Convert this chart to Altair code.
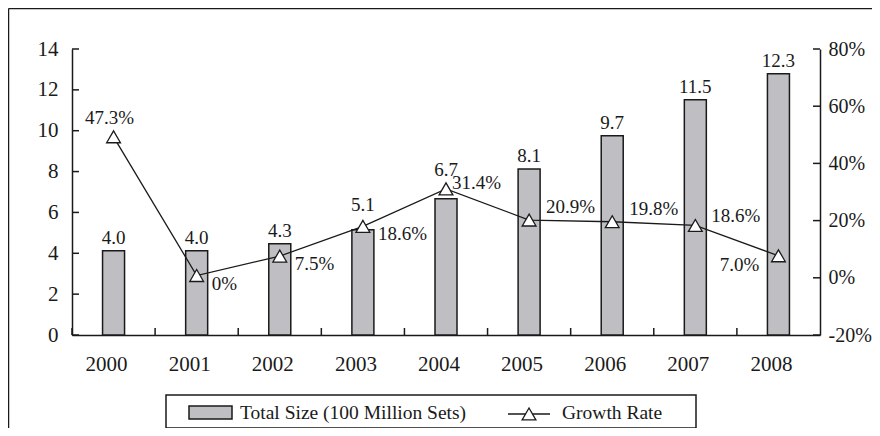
import altair as alt
import pandas as pd

# ---- data ----
years = ["2000", "2001", "2002", "2003", "2004", "2005", "2006", "2007", "2008"]
total_size = [4.13, 4.13, 4.47, 5.15, 6.67, 8.12, 9.75, 11.52, 12.79]
size_labels = ["4.0", "4.0", "4.3", "5.1", "6.7", "8.1", "9.7", "11.5", "12.3"]
size_label_group = ["n", "n", "n", "mid", "high", "n", "n", "n", "n"]
growth_rate = [49.3, 0.8, 7.6, 18.0, 31.1, 20.2, 19.6, 18.3, 7.7]
growth_labels = ["47.3%", "0%", "7.5%", "18.6%", "31.4%", "20.9%", "19.8%", "18.6%", "7.0%"]
growth_label_group = ["above", "below_right", "below_right", "below_right", "right",
                      "above_right", "above_right", "right_up", "below_left"]
left_ticks = [0, 2, 4, 6, 8, 10, 12, 14]
right_ticks = [-20, 0, 20, 40, 60, 80]
legend_bar_text = "Total Size (100 Million Sets)"
legend_line_text = "Growth Rate"

W, H = 748, 286
FONT = "'Liberation Serif', 'Times New Roman', Times, serif"
INK = "#1a1a1a"
BAR_FILL = "#bfbfc3"

df = pd.DataFrame({
    "year": years,
    "size": total_size,
    "size_label": size_labels,
    "size_group": size_label_group,
    "growth": growth_rate,
    "growth_label": growth_labels,
    "growth_group": growth_label_group,
})
lt = pd.DataFrame({"v": left_ticks})
rt = pd.DataFrame({"v": right_ticks})
yr = pd.DataFrame({"year": years})


def xs():
    return alt.Scale(domain=years, paddingInner=0, paddingOuter=0)


def ls():
    return alt.Scale(domain=[0, 14], nice=False, zero=True)


def rs():
    return alt.Scale(domain=[-20, 80], nice=False, zero=False)


X_AXIS = alt.X("year:N", scale=xs(),
               axis=alt.Axis(title=None, labelAngle=0, ticks=False, tickSize=0,
                             labelPadding=18, labelOffset=-7, domainColor=INK,
                             domainWidth=1.5, grid=False, labelFontSize=21,
                             labelFont=FONT, labelColor=INK))
X = alt.X("year:N", scale=xs(), axis=None)

base = alt.Chart(df)

layers = []

# bars carry the x axis and the left axis
layers.append(
    base.mark_bar(size=22, color=BAR_FILL, stroke=INK, strokeWidth=1.5).encode(
        x=X_AXIS,
        y=alt.Y("size:Q", scale=ls(),
                axis=alt.Axis(title=None, values=left_ticks, ticks=False, tickSize=0,
                              labelPadding=14, domainColor=INK, domainWidth=1.5,
                              grid=False, labelFontSize=21, labelFont=FONT,
                              labelColor=INK)),
    )
)
for grp, dy in [("n", -13), ("mid", -25), ("high", -29)]:
    layers.append(
        base.transform_filter(alt.datum.size_group == grp)
        .mark_text(font=FONT, fontSize=19, color=INK, dy=dy, baseline="middle")
        .encode(x=X, y=alt.Y("size:Q", scale=ls(), axis=None), text="size_label:N")
    )
layers.append(
    alt.Chart(lt).mark_rule(color=INK, strokeWidth=1.5).encode(
        y=alt.Y("v:Q", scale=ls(), axis=None),
        x=alt.value(0), x2=alt.value(7),
    )
)
layers.append(
    alt.Chart(yr).mark_rule(color=INK, strokeWidth=1.5).encode(
        x=alt.X("year:N", scale=xs(), bandPosition=0, axis=None),
        y=alt.value(H - 7), y2=alt.value(H),
    )
)

# growth line carries the right axis
layers.append(
    base.mark_line(color=INK, strokeWidth=1.3).encode(
        x=X,
        y=alt.Y("growth:Q", scale=rs(),
                axis=alt.Axis(title=None, orient="right", values=right_ticks, ticks=False,
                              tickSize=0, labelPadding=8, domainColor=INK,
                              domainWidth=1.5, grid=False, labelFontSize=20,
                              labelFont=FONT, labelColor=INK,
                              labelExpr="datum.value + '%'")),
    )
)
layers.append(
    base.mark_point(shape="triangle-up", size=190, filled=True, fill="white",
                    stroke=INK, strokeWidth=1.3, opacity=1).encode(
        x=X, y=alt.Y("growth:Q", scale=rs(), axis=None))
)
placements = {
    "above": dict(align="center", dx=-4, dy=-19),
    "below_right": dict(align="left", dx=15, dy=8),
    "right": dict(align="left", dx=6, dy=-6),
    "above_right": dict(align="left", dx=17, dy=-13),
    "right_up": dict(align="left", dx=16, dy=-9),
    "below_left": dict(align="right", dx=-19, dy=9),
}
for grp, kw in placements.items():
    layers.append(
        base.transform_filter(alt.datum.growth_group == grp)
        .mark_text(font=FONT, fontSize=19, color=INK, baseline="middle", **kw)
        .encode(x=X, y=alt.Y("growth:Q", scale=rs(), axis=None), text="growth_label:N")
    )
layers.append(
    alt.Chart(rt).mark_rule(color=INK, strokeWidth=1.5).encode(
        y=alt.Y("v:Q", scale=rs(), axis=None),
        x=alt.value(W - 7), x2=alt.value(W),
    )
)

# frame and legend
one = pd.DataFrame({"k": [0]})
layers += [
    alt.Chart(one).mark_rule(color=INK, strokeWidth=1.5).encode(
        x=alt.value(-63.5), y=alt.value(-40.5), y2=alt.value(H + 120)),
    alt.Chart(one).mark_rule(color=INK, strokeWidth=1.5).encode(
        x=alt.value(-63.5), x2=alt.value(W + 120), y=alt.value(-40.5)),
    alt.Chart(one).mark_rect(fill="white", stroke=INK, strokeWidth=1.5).encode(
        x=alt.value(94), x2=alt.value(624), y=alt.value(346), y2=alt.value(379)),
    alt.Chart(one).mark_rect(fill=BAR_FILL, stroke=INK, strokeWidth=1.5).encode(
        x=alt.value(117), x2=alt.value(160), y=alt.value(357), y2=alt.value(370)),
    alt.Chart(one).mark_text(font=FONT, fontSize=19.5, color=INK, align="left",
                             baseline="middle").encode(
        x=alt.value(168), y=alt.value(364), text=alt.value(legend_bar_text)),
    alt.Chart(one).mark_rule(color=INK, strokeWidth=1.3).encode(
        x=alt.value(436), x2=alt.value(478), y=alt.value(365)),
    alt.Chart(one).mark_point(shape="triangle-up", size=190, filled=True, fill="white",
                              stroke=INK, strokeWidth=1.3, opacity=1).encode(
        x=alt.value(457), y=alt.value(365)),
    alt.Chart(one).mark_text(font=FONT, fontSize=19.5, color=INK, align="left",
                             baseline="middle").encode(
        x=alt.value(490), y=alt.value(364), text=alt.value(legend_line_text)),
]

chart = alt.layer(*layers).resolve_scale(
    x="independent", y="independent"
).properties(
    width=W, height=H,
    autosize=alt.AutoSizeParams(type="none"),
    padding={"left": 64, "top": 41, "right": 52, "bottom": 93},
    background="white",
).configure_view(stroke=None)

chart.save("out.html", embed_options={"renderer": "svg", "actions": False})
